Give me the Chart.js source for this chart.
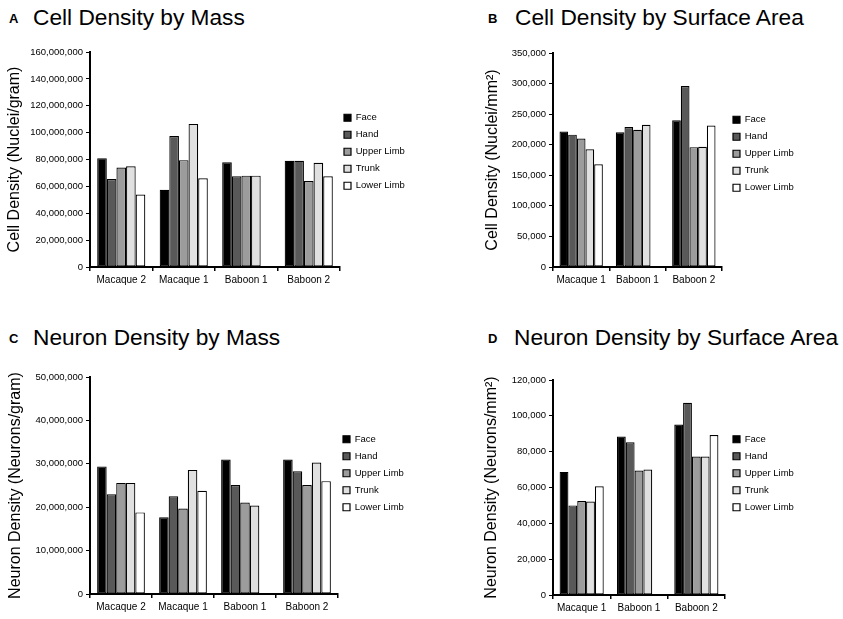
<!DOCTYPE html>
<html lang="en">
<head>
    <meta charset="UTF-8">
    <title>Cell and Neuron Density</title>
    <script src="https://cdn.jsdelivr.net/npm/chart.js"></script>
    <style>
        body {
            margin: 0;
            background: #ffffff;
            font-family: "Liberation Sans", Arial, sans-serif;
        }
        #page {
            position: relative;
            width: 843px;
            height: 619px;
        }
        .panel {
            position: absolute;
        }
        .letter {
            position: absolute;
            font-size: 13px;
            font-weight: bold;
            line-height: 13px;
            color: #000;
        }
        .title {
            position: absolute;
            font-size: 22.7px;
            line-height: 22.7px;
            color: #000;
            white-space: nowrap;
        }
    </style>
</head>
<body>
<div id="page">
    <div class="letter" style="left:9px; top:12px;">A</div>
    <div class="title" style="left:33px; top:6px;">Cell Density by Mass</div>
    <div class="letter" style="left:488px; top:12px;">B</div>
    <div class="title" style="left:515px; top:6px;">Cell Density by Surface Area</div>
    <div class="letter" style="left:9px; top:332px;">C</div>
    <div class="title" style="left:33px; top:326px;">Neuron Density by Mass</div>
    <div class="letter" style="left:488px; top:332px;">D</div>
    <div class="title" style="left:514px; top:326px;">Neuron Density by Surface Area</div>

    <div class="panel" style="left:0; top:0; width:420px; height:300px;"><canvas id="chartA"></canvas></div>
    <div class="panel" style="left:420px; top:0; width:423px; height:300px;"><canvas id="chartB"></canvas></div>
    <div class="panel" style="left:0; top:310px; width:420px; height:309px;"><canvas id="chartC"></canvas></div>
    <div class="panel" style="left:420px; top:310px; width:423px; height:309px;"><canvas id="chartD"></canvas></div>
</div>

<script>
    // data
    const regions = ['Face', 'Hand', 'Upper Limb', 'Trunk', 'Lower Limb'];
    const massAnimals = ['Macaque 2', 'Macaque 1', 'Baboon 1', 'Baboon 2'];
    const areaAnimals = ['Macaque 1', 'Baboon 1', 'Baboon 2'];

    // one row per region, in the order of `regions`
    const cellMass = [
        [81000000, 57500000, 78000000, 79000000],
        [65500000, 97500000, 67500000, 79000000],
        [74000000, 79500000, 68000000, 64000000],
        [75000000, 106500000, 68000000, 77500000],
        [54000000, 66000000, null, 67500000]
    ];
    const cellArea = [
        [221500, 220500, 240000],
        [216500, 229000, 296000],
        [210000, 224500, 196000],
        [192500, 232500, 196500],
        [168000, null, 231500]
    ];
    const neuronMass = [
        [29400000, 17700000, 31000000, 31000000],
        [23000000, 22500000, 25100000, 28300000],
        [25600000, 19700000, 21100000, 25100000],
        [25600000, 28600000, 20400000, 30300000],
        [18800000, 23800000, null, 26000000]
    ];
    const neuronArea = [
        [68700, 88400, 95100],
        [50000, 85200, 107300],
        [52500, 69500, 77300],
        [52200, 70000, 77300],
        [60700, null, 89300]
    ];

    // [max, step] of each value axis
    const cellMassAxis = [160000000, 20000000];
    const cellAreaAxis = [350000, 50000];
    const neuronMassAxis = [50000000, 10000000];
    const neuronAreaAxis = [120000, 20000];

    const fills = ['#000000', '#595959', '#9c9c9c', '#e0e0e0', '#ffffff'];
    const FONT = '"Liberation Sans", Arial, sans-serif';

    // put the legend at a fixed spot instead of where Chart.js lays it out
    const placeLegend = {
        id: 'placeLegend',
        afterLayout(chart, args, opts) {
            const lg = chart.legend;
            if (!lg) return;
            const pad = lg.options.labels.padding;
            const w = lg.width, h = lg.height;
            lg.left = opts.x - pad;
            lg.right = lg.left + w;
            lg.top = opts.y - pad;
            lg.bottom = lg.top + h;
        }
    };

    function makeChart(id, labels, rows, axis, yTitle, box) {
        const datasets = rows.map((vals, i) => ({
            label: regions[i],
            data: vals,
            backgroundColor: fills[i],
            borderColor: '#000000',
            borderWidth: 1.2,
            borderSkipped: false,
            categoryPercentage: 0.77,
            barPercentage: 1.0
        }));

        return new Chart(document.getElementById(id), {
            type: 'bar',
            data: { labels: labels, datasets: datasets },
            plugins: [placeLegend],
            options: {
                responsive: true,
                maintainAspectRatio: false,
                animation: false,
                layout: {
                    padding: { left: box.padLeft, top: box.top, right: box.padRight, bottom: box.padBottom }
                },
                plugins: {
                    legend: {
                        position: 'chartArea',
                        align: 'start',
                        labels: {
                            boxWidth: 7,
                            boxHeight: 7,
                            padding: 7.5,
                            color: '#000',
                            font: { family: FONT, size: 9.5 }
                        }
                    },
                    placeLegend: { x: box.legX, y: box.legY },
                    tooltip: { enabled: false }
                },
                scales: {
                    x: {
                        afterFit: s => { s.height = 30; },
                        grid: { drawOnChartArea: false, tickLength: 4, color: '#000', lineWidth: 1.5 },
                        border: { color: '#000', width: 2 },
                        ticks: { color: '#000', padding: 3, font: { family: FONT, size: 10 } }
                    },
                    y: {
                        min: 0,
                        max: axis[0],
                        afterFit: s => { s.width = box.yWidth; },
                        grid: { drawOnChartArea: false, tickLength: 4, color: '#000', lineWidth: 1 },
                        border: { color: '#000', width: 2 },
                        ticks: {
                            stepSize: axis[1],
                            color: '#000',
                            padding: 3,
                            font: { family: FONT, size: 9.5 },
                            callback: v => v.toLocaleString('en-US')
                        },
                        title: {
                            display: true,
                            text: yTitle,
                            color: '#000',
                            padding: { top: box.titlePad, bottom: 0 },
                            font: { family: FONT, size: 16 }
                        }
                    }
                }
            }
        });
    }

    makeChart('chartA', massAnimals, cellMass, cellMassAxis, 'Cell Density (Nuclei/gram)',
        { padLeft: 0, yWidth: 90, top: 52, padRight: 80, padBottom: 3, titlePad: 5, legX: 344, legY: 113 });
    makeChart('chartB', areaAnimals, cellArea, cellAreaAxis, 'Cell Density (Nuclei/mm\u00B2)',
        { padLeft: 63, yWidth: 70, top: 53, padRight: 121, padBottom: 3, titlePad: 0, legX: 313, legY: 115 });
    makeChart('chartC', massAnimals, neuronMass, neuronMassAxis, 'Neuron Density (Neurons/gram)',
        { padLeft: 0, yWidth: 90, top: 67, padRight: 82, padBottom: -5, titlePad: 6, legX: 343, legY: 124.5 });
    makeChart('chartD', areaAnimals, neuronArea, neuronAreaAxis, 'Neuron Density (Neurons/mm\u00B2)',
        { padLeft: 62, yWidth: 71, top: 70, padRight: 118, padBottom: -6, titlePad: 0, legX: 313, legY: 124.5 });
</script>
</body>
</html>
